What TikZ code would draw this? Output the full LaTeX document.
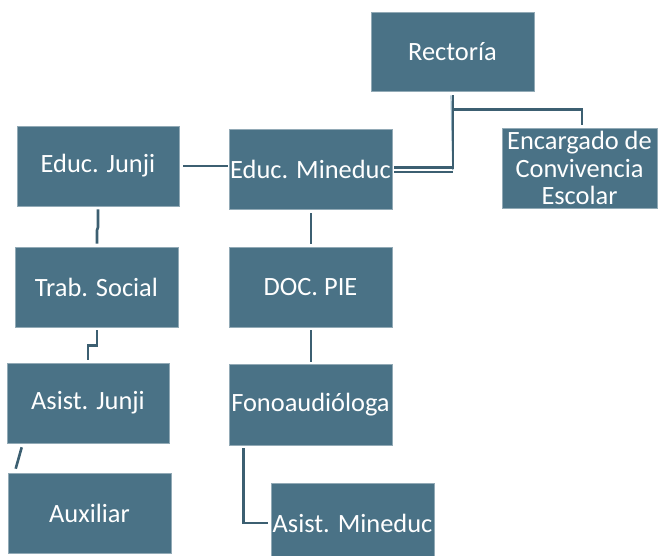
\documentclass[tikz,border=0pt]{standalone}
\usepackage{fontspec}
\setmainfont{Carlito}
\usepackage{tikz}
\usetikzlibrary{calc}

\definecolor{boxblue}{RGB}{74,114,134}
\definecolor{linkblue}{RGB}{60,95,113}
\definecolor{shadeblue}{RGB}{150,180,196}

\begin{document}
\begin{tikzpicture}[x=1pt,y=-1pt,
  puesto/.style={rectangle,fill=boxblue,draw=boxblue!60!white,line width=0.6pt,
    inner sep=0pt,minimum width=163pt,minimum height=80pt,text=white,align=center,
    font=\fontsize{26.4}{27.5}\selectfont},
  link/.style={draw=linkblue,line width=2.6pt}]
\useasboundingbox (0,0) rectangle (658,556);

\node[puesto,minimum height=79pt] (rect) at (452.5,51.5) {Rectoría};
\node[puesto,minimum width=155pt] (enc) at (579.5,168) {Encargado de\\Convivencia\\Escolar};
\node[puesto,minimum width=162pt] (junji) at (98,166) {Educ. Junji};
\node[puesto] (mined) at (310.5,169) {Educ. Mineduc};
\node[puesto] (trab) at (96.5,287) {Trab. Social};
\node[puesto] (pie) at (310.5,287) {DOC. PIE};
\node[puesto,minimum height=81pt] (fono) at (310.5,404.5) {Fonoaudióloga};
\node[puesto,minimum width=162pt] (asistj) at (88,403) {Asist. Junji};
\node[puesto] (aux) at (89.5,513) {Auxiliar};
\node[puesto] (asistm) at (352.5,523) {Asist. Mineduc};

% Rectoria
\draw[draw=shadeblue,line width=1.2pt] ($(rect.south)+(-1.5,4)$) -- ($(mined.east)+(60.5,1.2)$);
\draw[link] ($(rect.south)+(0.5,4)$) |- ($(mined.east)+(2,-1.5)$);
\draw[link] ($(mined.east)+(2,3)$) -- ++(59,0);
\draw[link] ($(rect.south)+(0.5,18)$) -| ($(enc.north)+(2.5,-3)$);
% columna junji
\draw[link] ($(junji.east)+(4,0)$) -- ($(mined.west)+(-1,-3)$);
\draw[link] ($(junji.south)+(0,3)$) -- ++(0,18) -- ++(-1,3) -- ($(trab.north)+(0.5,-3)$);
\draw[link] ($(trab.south)+(0.5,3)$) -- ++(0,15) -| ($(asistj.north)+(0,-3)$);
\draw[link] ($(asistj.south west)+(15,4)$) -- ($(aux.north west)+(8,-4)$);
% columna mineduc
\draw[link] ($(mined.south)+(0.5,4)$) -- ($(pie.north)+(0.5,-3)$);
\draw[link] ($(pie.south)+(0.5,3)$) -- ($(fono.north)+(0.5,-2)$);
\draw[link] ($(fono.south west)+(15,3)$) |- ($(asistm.west)+(-3,0)$);
\end{tikzpicture}
\end{document}
